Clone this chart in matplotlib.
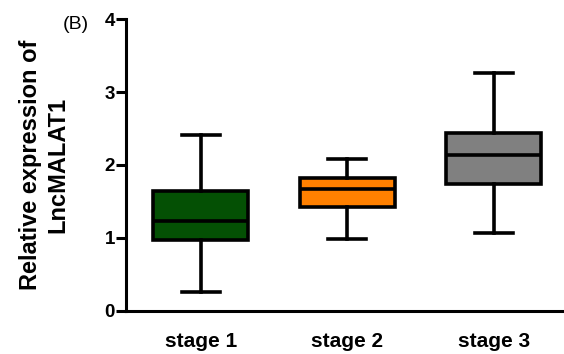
import matplotlib.pyplot as plt

plt.rcParams['font.family'] = ['Liberation Sans', 'DejaVu Sans']

# groups
stages = ['stage 1', 'stage 2', 'stage 3']
colors = ['#045004', '#FF8000', '#808080']

# box statistics (min/max whiskers)
whis_lo = [0.26, 0.99, 1.07]
q1 = [0.97, 1.42, 1.74]
med = [1.23, 1.67, 2.14]
q3 = [1.65, 1.82, 2.44]
whis_hi = [2.41, 2.08, 3.26]

stats = []
for i in range(len(stages)):
    stats.append({'label': stages[i], 'whislo': whis_lo[i], 'q1': q1[i],
                  'med': med[i], 'q3': q3[i], 'whishi': whis_hi[i]})

fig = plt.figure(figsize=(5.64, 3.54), dpi=100)
ax = fig.add_axes([0.2234, 0.1215, 0.7766, 0.8248])

lw = 2.6
bp = ax.bxp(stats, positions=[1, 2, 3], widths=0.65, capwidths=0.26,
            patch_artist=True, showfliers=False,
            boxprops=dict(linewidth=lw, edgecolor='black'),
            medianprops=dict(linewidth=lw, color='black'),
            whiskerprops=dict(linewidth=lw, color='black'),
            capprops=dict(linewidth=lw, color='black'))
for patch, c in zip(bp['boxes'], colors):
    patch.set_facecolor(c)

ax.set_xlim(0.49, 3.48)
ax.set_ylim(0, 4)
ax.set_yticks([0, 1, 2, 3, 4])

ax.spines['top'].set_visible(False)
ax.spines['right'].set_visible(False)
ax.spines['left'].set_linewidth(2.2)
ax.spines['bottom'].set_linewidth(2.2)
ax.tick_params(axis='y', width=2.2, length=7, labelsize=13.5, pad=1)
ax.tick_params(axis='x', length=0, labelsize=15, pad=15)
for lab in ax.get_xticklabels() + ax.get_yticklabels():
    lab.set_fontweight('bold')

ax.set_ylabel('Relative expression of\nLncMALAT1', fontsize=17,
              fontweight='bold', linespacing=1.25)
ax.yaxis.set_label_coords(-0.13, 0.5)

fig.text(0.112, 0.93, '(B)', fontsize=14, ha='left', va='center')

fig.savefig('out.png', dpi=100)
